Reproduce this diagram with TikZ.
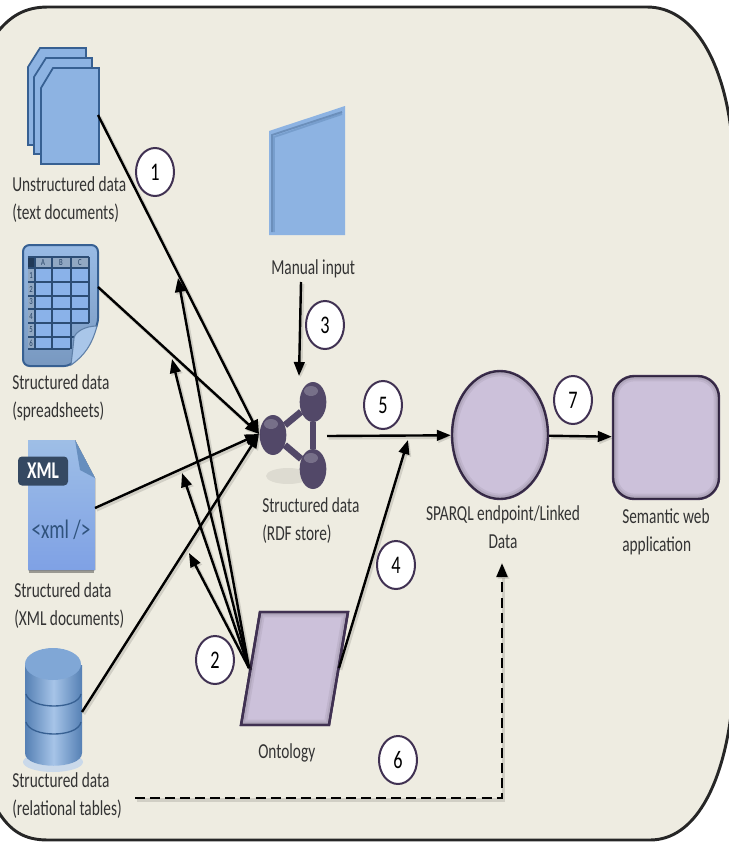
\documentclass[tikz,border=0pt]{standalone}
\usepackage{amsmath}
\usepackage{fontspec}
\usetikzlibrary{arrows.meta,shapes.geometric}
\newfontfamily\lblfont[FakeStretch=0.72]{Carlito}
\definecolor{panelfill}{HTML}{EEECE1}
\definecolor{panelline}{HTML}{262626}
\definecolor{bluefill}{HTML}{8DB3E2}
\definecolor{blueline}{HTML}{376092}
\definecolor{celltint}{HTML}{8AB2E9}
\definecolor{dbedge}{HTML}{5580B4}
\definecolor{dbmid}{HTML}{A6C4E8}
\definecolor{lilacfill}{HTML}{CCC1DA}
\definecolor{lilacline}{HTML}{403152}
\definecolor{rdfball}{HTML}{524868}
\definecolor{labeltext}{HTML}{333333}
\tikzset{
  lbl/.style={font=\lblfont\fontsize{16}{21}\selectfont,text=labeltext,inner sep=0pt,align=left},
  numcircle/.style={ellipse,draw=lilacline,line width=1.5pt,fill=white,minimum width=28.5pt,minimum height=36pt,inner sep=0pt,font=\lblfont\fontsize{19}{20}\selectfont},
  conn/.style={line width=1.8pt,-{Triangle[length=10.5pt,width=8pt]},preaction={draw=black,opacity=.12,line width=2.6pt,transform canvas={shift={(1.2pt,-1.4pt)}}}},
  lilacshape/.style={draw=lilacline,line width=1.8pt,fill=lilacfill},
  pageshape/.style={draw=blueline,line width=1.3pt,fill=bluefill},
  ball/.style={ellipse,fill=rdfball,minimum width=20pt,minimum height=30pt,inner sep=0pt},
  link/.style={draw=rdfball,line width=5pt},
  cellline/.style={draw=blueline!80!black,line width=.8pt},
  tinytext/.style={font=\lblfont\fontsize{7}{8}\selectfont,text=blueline!70!black,inner sep=0pt},
}
\newcommand{\softedge}[1]{%
  \begin{scope}
    \clip #1;
    \draw[black,opacity=.10,line width=2pt] #1;
    \draw[black,opacity=.08,line width=5pt] #1;
    \draw[black,opacity=.06,line width=8pt] #1;
  \end{scope}}
\begin{document}
\begin{tikzpicture}[x=0.75pt,y=0.75pt,yscale=-1,xscale=1]
  \useasboundingbox (0,0) rectangle (728,842);

  %Shape: Panel
  \draw [draw=panelline,fill=panelfill,line width=2.2pt] (-4,34) .. controls (10,16) and (25,7) .. (48,7) -- (647,7) .. controls (692,7) and (722,58) .. (731,130) -- (731,715) .. controls (722,785) and (695,840) .. (650,840) -- (48,840) .. controls (25,840) and (10,832) .. (-4,808) -- cycle ;

  %Shape: Text documents
  \draw [pageshape] (40,48) -- (86,48) -- (86,145) -- (28,145) -- (28,67) -- cycle ;
  \draw [pageshape] (46,58) -- (92,58) -- (92,154) -- (34,154) -- (34,77) -- cycle ;
  \draw [pageshape] (53,68) -- (99,68) -- (99,164) -- (41,164) -- (41,88) -- cycle ;

  %Shape: Spreadsheet
  \draw [draw=blueline,line width=1.5pt,top color=bluefill!90!white,bottom color=bluefill!85!black,rounded corners=5pt] (23,245) -- (98,245) -- (98,325) -- (71,366) -- (23,366) -- cycle ;
  \fill [blueline!60!black] (28,257) rectangle (35,268) ;
  \fill [blueline!55] (35,257) rectangle (89,268) ;
  \fill [blueline!55] (28,268) rectangle (35,349) ;
  \fill [celltint] (35,268) rectangle (89,323) ;
  \fill [celltint] (35,323) rectangle (71,349) ;
  \draw [cellline] (28,257) -- (89,257) ;
  \draw [cellline] (28,268) -- (89,268) ;
  \draw [cellline] (28,282) -- (89,282) ;
  \draw [cellline] (28,296) -- (89,296) ;
  \draw [cellline] (28,309) -- (89,309) ;
  \draw [cellline] (28,323) -- (89,323) ;
  \draw [cellline] (28,337) -- (74,337) ;
  \draw [cellline] (28,349) -- (70,349) ;
  \draw [cellline] (35,257) -- (35,349) ;
  \draw [cellline] (52,257) -- (52,349) ;
  \draw [cellline] (71,257) -- (71,349) ;
  \draw [cellline] (89,257) -- (89,323) ;
  \draw [draw=blueline!80,line width=.8pt,fill=bluefill!75!white] (97,326) .. controls (85,326) and (75,332) .. (74,338) .. controls (73,348) and (72,356) .. (71,365) .. controls (84,356) and (92,345) .. (97,326) -- cycle ;
  \node [tinytext] (colA) at (43,263) {A};
  \node [tinytext] (colB) at (61,263) {B};
  \node [tinytext] (colC) at (80,263) {C};
  \node [tinytext] (rowOne) at (31,275) {1};
  \node [tinytext] (rowTwo) at (31,289) {2};
  \node [tinytext] (rowThree) at (31,302) {3};
  \node [tinytext] (rowFour) at (31,316) {4};
  \node [tinytext] (rowFive) at (31,330) {5};
  \node [tinytext] (rowSix) at (31,343) {6};

  %Shape: XML document
  \fill [black,opacity=.35] (29,566) rectangle (94,573) ;
  \fill [top color=bluefill!85!white,bottom color=bluefill!90!blue] (28,440) -- (75,440) -- (95,478) -- (95,570) -- (28,570) -- cycle ;
  \fill [blueline!45!bluefill] (75,440) -- (95,478) -- (80,470) -- cycle ;
  \node [fill=blueline!55!black!90!white,rounded corners=3pt,minimum width=37.5pt,minimum height=21.75pt,inner sep=0pt,text=white,font=\lblfont\bfseries\fontsize{18}{18}\selectfont] (xmlBadge) at (43,471) {XML};
  \node [inner sep=0pt,text=blueline!85!black,font=\lblfont\fontsize{20}{22}\selectfont] (xmlTag) at (61,530) {<xml />};

  %Shape: Database
  \fill [bluefill!60!white,opacity=.7] (53,762) ellipse (30 and 10) ;
  \shade [left color=dbedge,right color=dbedge,middle color=dbmid] (25,665) -- (25,753) .. controls (25,770) and (82,770) .. (82,753) -- (82,665) -- cycle ;
  \draw [blueline,line width=1pt] (26,694) .. controls (30,710) and (78,710) .. (81,694) ;
  \draw [blueline,line width=1pt] (26,722) .. controls (30,738) and (78,738) .. (81,722) ;
  \fill [bluefill!85!blueline] (53,664) ellipse (28 and 16) ;

  %Shape: Manual input
  \fill [bluefill] (269,131) -- (345,106) -- (345,235) -- (269,235) -- cycle ;
  \draw [blueline!85,opacity=.6,line width=1.4pt] (272,232) -- (272,135) -- (342,112) ;
  \draw [blueline,opacity=.25,line width=1.4pt] (274,232) -- (274,137) -- (342,114) ;

  %Shape: Ontology
  \draw [lilacshape] (260,612) -- (348,612) -- (329,725) -- (241,725) -- cycle ;
  \softedge{(260,612) -- (348,612) -- (329,725) -- (241,725) -- cycle}
  \draw [lilacline,line width=1.8pt] (260,612) -- (348,612) -- (329,725) -- (241,725) -- cycle ;

  %Shape: RDF store
  \fill [black,opacity=.07] (288,476) ellipse (22 and 8) ;
  \node [ball] (ballTop) at (313,402) {};
  \node [ball] (ballLeft) at (273,435) {};
  \node [ball] (ballBottom) at (313,469) {};
  \draw [link] (ballTop) -- (ballBottom) ;
  \draw [link] (ballTop) -- (ballLeft) ;
  \draw [link] (ballLeft) -- (ballBottom) ;
  \fill [white,opacity=.22] (311,391) ellipse (7 and 5) ;
  \fill [white,opacity=.22] (271,424) ellipse (7 and 5) ;
  \fill [white,opacity=.22] (311,458) ellipse (7 and 5) ;

  %Shape: SPARQL endpoint
  \node [ellipse,lilacshape,minimum width=72pt,minimum height=96pt,inner sep=0pt] (sparql) at (500,435) {};
  \softedge{(500,435) ellipse (48 and 64)}

  %Shape: Semantic web application
  \node [rectangle,rounded corners=16pt,lilacshape,minimum width=79.5pt,minimum height=92.25pt,inner sep=0pt] (webApp) at (666,437.5) {};
  \softedge{[rounded corners=16pt] (613,376) rectangle (719,499)}

  % Connector ends
  \coordinate (rdfIn) at (259,434);
  \coordinate (rdfOut) at (327,436);
  \coordinate (rdfTop) at (299,376);
  \coordinate (docOut) at (98,115);
  \coordinate (sheetOut) at (98,287);
  \coordinate (xmlOut) at (95,508);
  \coordinate (dbOut) at (82,712);
  \coordinate (manualOut) at (301,282);
  \coordinate (ontoLeft) at (249,668);
  \coordinate (ontoRight) at (339,668);
  \coordinate (docTip) at (178,278);
  \coordinate (sheetTip) at (172,359);
  \coordinate (xmlTip) at (182,473);
  \coordinate (dbTip) at (189,553);
  \coordinate (lineTip) at (408,440);
  \coordinate (dashStart) at (135,798);
  \coordinate (dashTip) at (502,563);

  %Straight Lines
  \draw [conn] (docOut) -- (rdfIn) ;
  \draw [conn] (sheetOut) -- (rdfIn) ;
  \draw [conn] (xmlOut) -- (rdfIn) ;
  \draw [conn] (dbOut) -- (rdfIn) ;
  \draw [conn] (ontoLeft) -- (docTip) ;
  \draw [conn] (ontoLeft) -- (sheetTip) ;
  \draw [conn] (ontoLeft) -- (xmlTip) ;
  \draw [conn] (ontoLeft) -- (dbTip) ;
  \draw [conn] (manualOut) -- (rdfTop) ;
  \draw [conn] (ontoRight) -- (lineTip) ;
  \draw [conn] (rdfOut) -- (sparql) ;
  \draw [conn] (sparql) -- (webApp) ;
  \draw [conn,line width=2.2pt,dash pattern=on 7.5pt off 3.8pt] (dashStart) -| (dashTip) ;

  % Text Node
  \node [lbl,anchor=north west] (lblDocs) at (12,176) {Unstructured data\\(text documents)};
  \node [lbl,anchor=north west] (lblSheet) at (12,374) {Structured data\\(spreadsheets)};
  \node [lbl,anchor=north west] (lblXml) at (14,582) {Structured data\\(XML documents)};
  \node [lbl,anchor=north west] (lblDb) at (12,772) {Structured data\\(relational tables)};
  \node [lbl,anchor=north west] (lblManual) at (271,259) {Manual input};
  \node [lbl,anchor=north west] (lblRdf) at (262,497) {Structured data\\(RDF store)};
  \node [lbl,anchor=north,align=center] (lblSparql) at (503,505) {SPARQL endpoint/Linked\\Data};
  \node [lbl,anchor=north west] (lblApp) at (622,508) {Semantic web\\application};
  \node [lbl,anchor=north west] (lblOnto) at (258,743) {Ontology};

  % Number Node
  \node [numcircle] (numOne) at (155,172) {1};
  \node [numcircle] (numTwo) at (215,660) {2};
  \node [numcircle] (numThree) at (325,325) {3};
  \node [numcircle] (numFour) at (396,565) {4};
  \node [numcircle] (numFive) at (383,405) {5};
  \node [numcircle] (numSix) at (398,760) {6};
  \node [numcircle] (numSeven) at (573,400) {7};
\end{tikzpicture}
\end{document}
